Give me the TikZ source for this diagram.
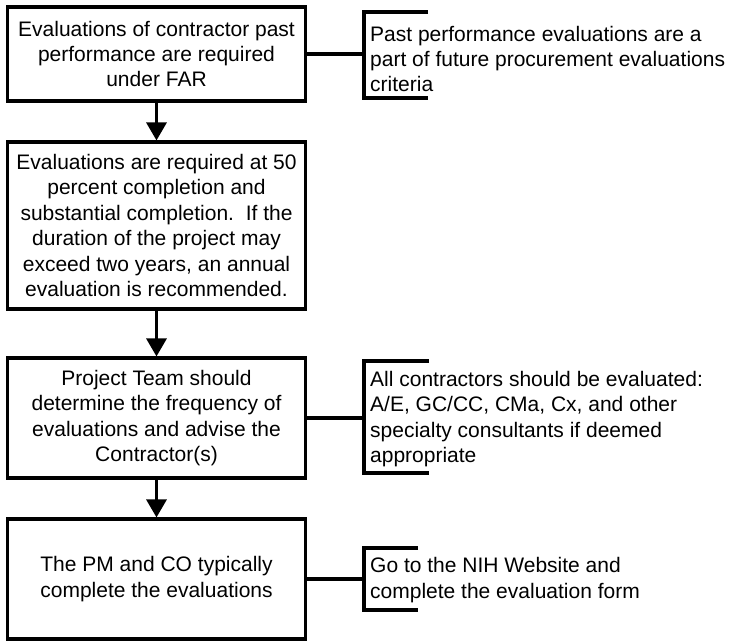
\documentclass[tikz,border=0pt]{standalone}
\usepackage{fontspec}
\setmainfont{Liberation Sans}
\usetikzlibrary{arrows.meta}
\begin{document}
\begin{tikzpicture}[x=1pt,y=-1pt,
  txt/.style={font=\fontsize{21}{25.4}\selectfont},
  box/.style={txt, draw, line width=3.1pt, rectangle, minimum width=298pt, inner sep=0pt, align=center},
  note/.style={txt, anchor=west, inner sep=0pt, align=left},
  flow/.style={line width=3.1pt, -{Triangle[width=20pt,length=18pt]}},
  link/.style={line width=3.1pt}]
\useasboundingbox (0,0) rectangle (733,641);

\node[box, minimum height=94pt] (b1) at (156.5,54) {Evaluations of contractor past\\performance are required\\under FAR};
\node[box, minimum height=167pt] (b2) at (156.5,225.5) {Evaluations are required at 50\\percent completion and\\substantial completion.\ \ If the\\duration of the project may\\exceed two years, an annual\\evaluation is recommended.};
\node[box, minimum height=120pt] (b3) at (156.5,418) {Project Team should\\determine the frequency of\\evaluations and advise the\\Contractor(s)};
\node[box, minimum height=120pt] (b4) at (156.5,579) {The PM and CO typically\\complete the evaluations};

\draw[flow] (b1) -- (b2);
\draw[flow] (b2) -- (b3);
\draw[flow] (b3) -- (b4);

% bracket 1
\coordinate (k1) at (364,54);
\coordinate (k1t) at (364,12);
\coordinate (k1b) at (364,98);
\coordinate (k1te) at (428,12);
\coordinate (k1be) at (428,98);
\draw[link] (b1.east) -- (k1);
\draw[link] (k1te) -- (k1t) -- (k1b) -- (k1be);
\node[note] (n1) at (370,59) {Past performance evaluations are a\\part of future procurement evaluations\\criteria};

% bracket 3
\coordinate (k3) at (364,418);
\coordinate (k3t) at (364,361);
\coordinate (k3b) at (364,473);
\coordinate (k3te) at (429,361);
\coordinate (k3be) at (429,473);
\draw[link] (b3.east) -- (k3);
\draw[link] (k3te) -- (k3t) -- (k3b) -- (k3be);
\node[note] (n3) at (370,419) {All contractors should be evaluated:\\A/E, GC/CC, CMa, Cx, and other\\specialty consultants if deemed\\appropriate};

% bracket 4
\coordinate (k4) at (364,579);
\coordinate (k4t) at (364,548);
\coordinate (k4b) at (364,610);
\coordinate (k4te) at (418,548);
\coordinate (k4be) at (418,610);
\draw[link] (b4.east) -- (k4);
\draw[link] (k4te) -- (k4t) -- (k4b) -- (k4be);
\node[note] (n4) at (370,580) {Go to the NIH Website and\\complete the evaluation form};
\end{tikzpicture}
\end{document}
